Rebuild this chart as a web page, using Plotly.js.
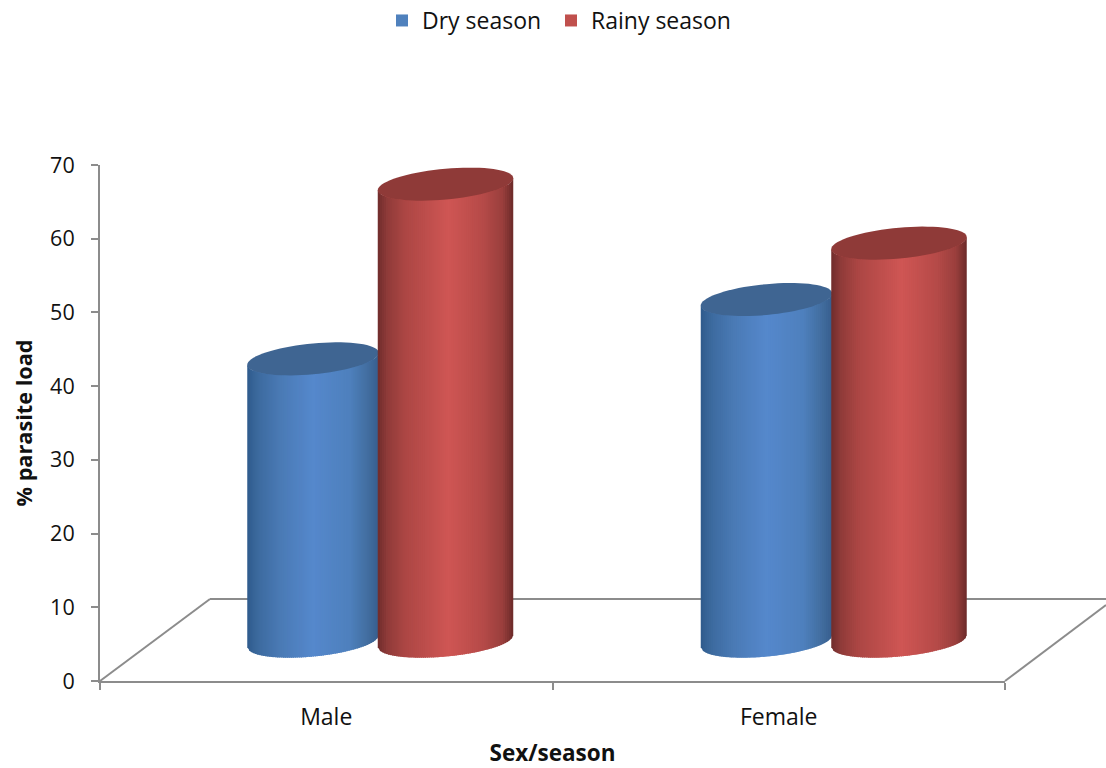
<!DOCTYPE html>
<html>
<head>
<meta charset="utf-8">
<script src="https://cdn.plot.ly/plotly-3.0.1.min.js"></script>
<style>html,body{margin:0;padding:0;background:#fff}</style>
</head>
<body>
<div id="chart" style="width:1106px;height:768px"></div>
<script>
const categories = ["Male", "Female"];
const dryValues = [38.3, 46.35];
const rainyValues = [62.0, 54.0];
const seriesNames = ["Dry season", "Rainy season"];
const yTicks = [0, 10, 20, 30, 40, 50, 60, 70];

// Style and 3D-projection settings
const floorBase = 5.4;
const PX = 7.371;                 // axis px per y unit
const tiltY = 6 / PX, capY = 15.4 / PX;
const W = 1106, H = 768, mL = 100, mR = 101, mT = 165, mB = 87;
const pxPerCat = (W - mL - mR) / 2;
const catShift = [0, 1.0 / pxPerCat];
const dryOffset = (247 - 326) / pxPerCat, dryWidth = 131.5 / pxPerCat;
const rainyOffset = (377.5 - 326) / pxPerCat, rainyWidth = 135.5 / pxPerCat;
const barInset = 0.04;
const grey = "#8c8c8c", font = "'Open Sans', sans-serif", ink = "#111";

const blueStops = [[0, "#2f5a8c"], [0.08, "#3c6a9e"], [0.25, "#4a7ab5"], [0.5, "#5588cc"], [0.78, "#4e80bd"], [0.92, "#426d9f"], [1, "#375e8d"]];
const redStops = [[0, "#702c2b"], [0.07, "#8f3b39"], [0.2, "#ac4644"], [0.52, "#cf5654"], [0.78, "#b54a48"], [0.92, "#9a3f3d"], [1, "#6c2a29"]];
const blueCap = "#3f6592", redCap = "#8f3a38";

function hexRgb(h) { return [1, 3, 5].map(i => parseInt(h.substr(i, 2), 16)); }
function shade(stops, f) {
  for (let i = 1; i < stops.length; i++) {
    if (f <= stops[i][0]) {
      const k = (f - stops[i - 1][0]) / (stops[i][0] - stops[i - 1][0]);
      const a = hexRgb(stops[i - 1][1]), b = hexRgb(stops[i][1]);
      return "rgb(" + a.map((v, j) => Math.round(v + (b[j] - v) * k)).join(",") + ")";
    }
  }
  return stops[stops.length - 1][1];
}

function cylinderShapes(catIndex, value, offset, width, stops, cap) {
  const out = [], x0 = catIndex + offset, topC = floorBase + value, N = 66;
  const front = u => tiltY * u - capY * Math.sqrt(Math.max(0, 1 - u * u));
  for (let i = 0; i < N; i++) {
    const u1 = -1 + 2 * i / N, u2 = -1 + 2 * Math.min(i + 1.5, N) / N;
    const x1 = x0 + width * (u1 + 1) / 2, x2 = x0 + width * (u2 + 1) / 2;
    const path = "M" + x1 + "," + (topC + front(u1)) + "L" + x2 + "," + (topC + front(u2)) +
      "L" + x2 + "," + (floorBase + front(u2)) + "L" + x1 + "," + (floorBase + front(u1)) + "Z";
    out.push({ type: "path", xref: "x", yref: "y", path, fillcolor: shade(stops, (i + 0.5) / N), line: { width: 0 } });
  }
  let p = "";
  for (let i = 0; i <= 72; i++) {
    const t = i / 72 * 2 * Math.PI;
    const x = x0 + width * (Math.cos(t) + 1) / 2;
    const y = topC + tiltY * Math.cos(t) + capY * Math.sin(t);
    p += (i ? "L" : "M") + x + "," + y;
  }
  out.push({ type: "path", xref: "x", yref: "y", path: p + "Z", fillcolor: cap, line: { width: 0 } });
  return out;
}

// Floor of the 3D chart
const fx = px => (px - mL) / (W - mL - mR);
const fy = py => (H - mB - py) / (H - mT - mB);
const floorSegs = [[100, 681, 210, 599], [210, 599, 1106, 599], [1005, 681, 1106, 605]];
const floorShapes = floorSegs.map(s => ({
  type: "line", xref: "paper", yref: "paper", layer: "below",
  x0: fx(s[0]), y0: fy(s[1]), x1: fx(s[2]), y1: fy(s[3]), line: { color: grey, width: 2 }
}));

const shapes = [...floorShapes];
categories.forEach((c, i) => {
  shapes.push(...cylinderShapes(i, dryValues[i], dryOffset + catShift[i], dryWidth, blueStops, blueCap));
  shapes.push(...cylinderShapes(i, rainyValues[i], rainyOffset + catShift[i], rainyWidth, redStops, redCap));
});

const traces = [
  { type: "bar", name: seriesNames[0], x: categories, y: dryValues, base: floorBase, legend: "legend",
    offset: catShift.map(s => dryOffset + s + barInset * dryWidth), width: dryWidth * (1 - 2 * barInset), marker: { color: "#4f81bd" } },
  { type: "bar", name: seriesNames[1], x: categories, y: rainyValues, base: floorBase, legend: "legend2",
    offset: catShift.map(s => rainyOffset + s + barInset * rainyWidth), width: rainyWidth * (1 - 2 * barInset), marker: { color: "#c0504d" } }
];

const axisCommon = { showgrid: false, zeroline: false, showline: true, linecolor: grey, linewidth: 2,
  ticks: "outside", ticklen: 7, tickwidth: 2, tickcolor: grey };
const legendCommon = { orientation: "h", xanchor: "left", xref: "paper", y: 1.28, yanchor: "middle",
  font: { family: font, size: 23, color: ink }, itemwidth: 30, bgcolor: "rgba(0,0,0,0)" };

const layout = {
  width: W, height: H, margin: { l: mL, r: mR, t: mT, b: mB, pad: 0, autoexpand: false },
  paper_bgcolor: "#fff", plot_bgcolor: "#fff", barmode: "overlay", shapes,
  font: { family: font, color: ink },
  showlegend: true,
  legend: Object.assign({}, legendCommon, { x: fx(382) }),
  legend2: Object.assign({}, legendCommon, { x: fx(551) }),
  xaxis: Object.assign({}, axisCommon, { type: "category", categoryorder: "array", categoryarray: categories,
    range: [-0.5, 1.5], tickson: "boundaries", automargin: true, ticklabelstandoff: 14,
    tickfont: { family: font, size: 23, color: ink },
    title: { text: "<b>Sex/season</b>", font: { family: font, size: 22.5, color: ink }, standoff: 19 } }),
  yaxis: Object.assign({}, axisCommon, { range: [0, 70], tickmode: "array", tickvals: yTicks, automargin: false, ticklabelstandoff: 12,
    tickfont: { family: font, size: 21.5, color: ink },
    title: { text: "<b>% parasite load</b>", font: { family: font, size: 21.7, color: ink }, standoff: 12 } })
};

Plotly.newPlot("chart", traces, layout, { displayModeBar: false, staticPlot: true });
</script>
</body>
</html>
